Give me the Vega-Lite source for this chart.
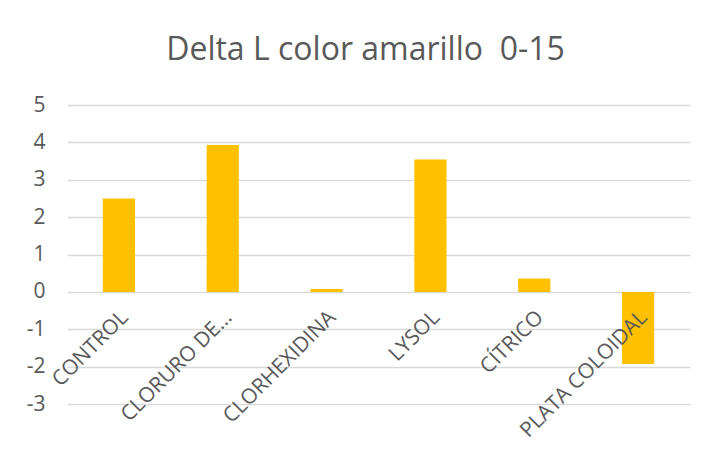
{
  "$schema": "https://vega.github.io/schema/vega-lite/v6.json",
  "autosize": "none",
  "width": 623,
  "height": 299,
  "padding": {"left": 67, "top": 105, "right": 22, "bottom": 48},
  "background": "white",
  "title": {
    "text": "Delta L color amarillo \u00a00-15",
    "fontSize": 32,
    "font": "Open Sans",
    "fontWeight": "normal",
    "color": "#595959",
    "anchor": "middle",
    "dx": -13,
    "offset": 27
  },
  "data": {
    "values": [
      {"grupo": "CONTROL", "delta": 2.5},
      {"grupo": "CLORURO DE…", "delta": 3.93},
      {"grupo": "CLORHEXIDINA", "delta": 0.08},
      {"grupo": "LYSOL", "delta": 3.54},
      {"grupo": "CÍTRICO", "delta": 0.36},
      {"grupo": "PLATA COLOIDAL", "delta": -1.93}
    ]
  },
  "mark": {"type": "bar", "color": "#FFC000"},
  "encoding": {
    "x": {
      "field": "grupo",
      "type": "nominal",
      "sort": null,
      "scale": {"paddingInner": 0.69, "paddingOuter": 0.345},
      "axis": {
        "title": null,
        "offset": -112,
        "zindex": 1,
        "grid": false,
        "domain": false,
        "ticks": false,
        "labelAngle": -45,
        "labelAlign": "right",
        "labelBaseline": "middle",
        "labelPadding": 22,
        "labelOffset": 6,
        "labelFont": "Open Sans",
        "labelFontSize": 21,
        "labelColor": "#595959",
        "labelLimit": 300
      }
    },
    "y": {
      "field": "delta",
      "type": "quantitative",
      "scale": {"domain": [-3, 5], "nice": false},
      "axis": {
        "title": null,
        "values": [-3, -2, -1, 0, 1, 2, 3, 4, 5],
        "labelExpr": "replace(datum.label, '\u2212', '-')",
        "domain": false,
        "ticks": false,
        "labelPadding": 22,
        "labelFont": "Open Sans",
        "labelFontSize": 21,
        "labelColor": "#595959",
        "gridColor": "#d9d9d9",
        "gridWidth": 1.5
      }
    }
  },
  "config": {"view": {"stroke": null}}
}
